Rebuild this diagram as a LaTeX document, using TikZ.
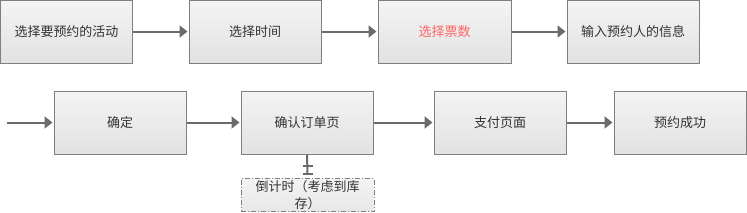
\documentclass[tikz,border=0pt]{standalone}
\usepackage{fontspec}
\newfontfamily\cjk{Noto Sans CJK SC}
\usetikzlibrary{arrows.meta}
\definecolor{boxline}{HTML}{7F7F7F}
\definecolor{connc}{HTML}{6B6B6B}
\definecolor{txtc}{HTML}{333333}
\definecolor{redtxt}{HTML}{FF6464}
\definecolor{topc}{HTML}{F4F4F4}
\definecolor{botc}{HTML}{E2E2E2}
\begin{document}
\begin{tikzpicture}[x=1pt,y=-1pt,
  stepbox/.style={draw=boxline, line width=1pt, top color=topc, bottom color=botc,
    minimum width=132pt, minimum height=63pt, inner sep=0pt,
    font=\cjk\fontsize{13}{17}\selectfont, text=txtc},
  notebox/.style={draw=boxline, line width=0.9pt, dash pattern=on 5pt off 2pt on 1pt off 2pt,
    top color=topc, bottom color=botc!70!topc, minimum width=133pt, minimum height=33pt,
    inner sep=0pt, align=center, font=\cjk\fontsize{13}{17}\selectfont, text=txtc},
  conn/.style={draw=connc, line width=2pt, shorten >=1pt, -{Triangle[length=8pt,width=12pt]}},
  teeline/.style={draw=connc, line width=2pt}]
\useasboundingbox (0,0) rectangle (747,212);
\node[stepbox] (b1) at (66.5,31.5) {选择要预约的活动};
\node[stepbox] (b2) at (255,31.5) {选择时间};
\node[stepbox, minimum width=133pt, text=redtxt] (b3) at (444.5,31.5) {选择票数};
\node[stepbox] (b4) at (633,31.5) {输入预约人的信息};
\node[stepbox] (c1) at (120,122.5) {确定};
\node[stepbox] (c2) at (307,122.5) {确认订单页};
\node[stepbox] (c3) at (500,122.5) {支付页面};
\node[stepbox] (c4) at (680,122.5) {预约成功};
\node[notebox] (d) at (307.5,195) {倒计时（考虑到库\\存）};
\coordinate (start) at (7,122.5);
\draw[conn] (b1) -- (b2);
\draw[conn] (b2) -- (b3);
\draw[conn] (b3) -- (b4);
\draw[conn] (start) -- (c1);
\draw[conn] (c1) -- (c2);
\draw[conn] (c2) -- (c3);
\draw[conn] (c3) -- (c4);
\coordinate (teeend) at ([yshift=4pt]d.north);
\draw[teeline] (c2.south) -- (teeend);
\draw[teeline] ([xshift=-5pt,yshift=8pt]teeend) -- ([xshift=5pt,yshift=8pt]teeend);
\draw[teeline] ([xshift=-5pt]teeend) -- ([xshift=5pt]teeend);
\end{tikzpicture}
\end{document}
